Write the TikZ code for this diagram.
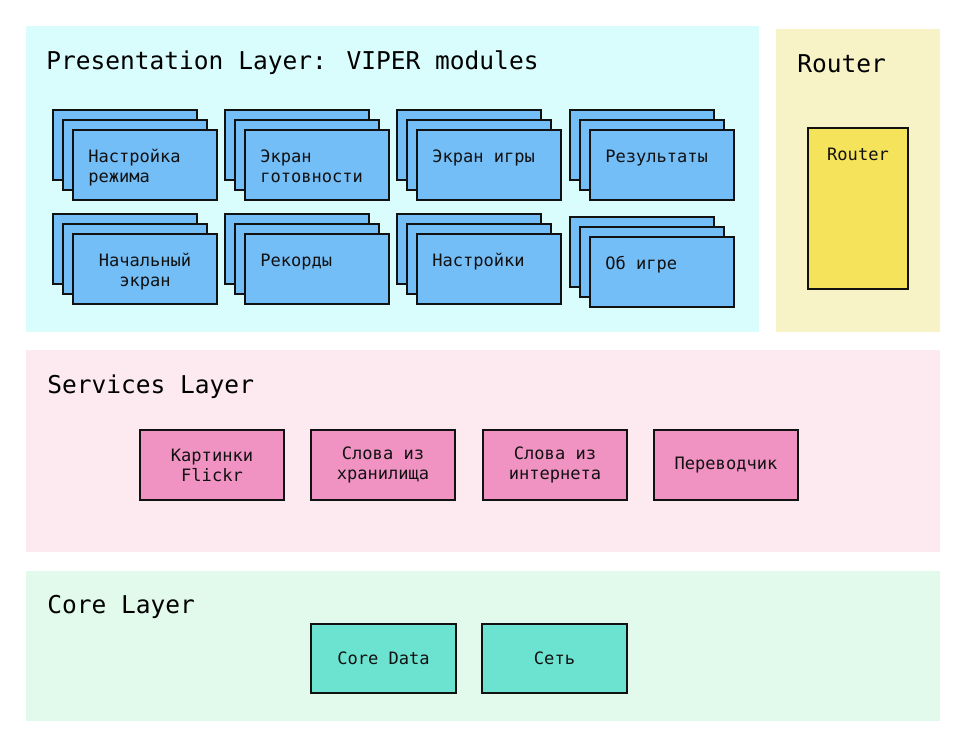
\documentclass[tikz,border=0pt]{standalone}
\usepackage{fontspec}
\setmainfont{DejaVu Sans Mono}
\definecolor{presbg}{HTML}{D9FDFD}
\definecolor{routbg}{HTML}{F8F3C7}
\definecolor{servbg}{HTML}{FCEAF0}
\definecolor{corebg}{HTML}{E2FAEB}
\definecolor{modfill}{HTML}{74BEF8}
\definecolor{routfill}{HTML}{F5E35B}
\definecolor{servfill}{HTML}{F093C3}
\definecolor{corefill}{HTML}{6CE3D0}
\definecolor{edgecol}{HTML}{111111}
\newcommand\rbox[6]{% name, style, x1, y1, x2, y2
  \pgfmathsetmacro\bw{(#5-#3)*0.75}\pgfmathsetmacro\bh{(#6-#4)*0.75}%
  \node[#2, minimum width=\bw pt, minimum height=\bh pt] (#1) at ({(#3+#5)/2},{(#4+#6)/2}) {};}
\newcommand\modstack[5]{% name, x, y, align, text
  \pgfmathsetmacro\xa{#2+10}\pgfmathsetmacro\ya{#3+10}%
  \pgfmathsetmacro\xb{#2+20}\pgfmathsetmacro\yb{#3+20}%
  \rbox{#1-back}{modbox}{#2}{#3}{#2+144}{#3+70}
  \rbox{#1-mid}{modbox}{\xa}{\ya}{\xa+144}{\ya+70}
  \rbox{#1}{modbox}{\xb}{\yb}{\xb+144}{\yb+70}
  \ifx l#4
    \node[modtext, anchor=north west, align=left] (#1-label) at ([xshift=15*0.75pt, yshift=-18*0.75pt]#1.north west) {\strut #5};
  \else
    \node[modtext, anchor=north, align=center] (#1-label) at ([yshift=-18*0.75pt]#1.north) {\strut #5};
  \fi}
\tikzset{
  panel/.style={draw=none, inner sep=0pt, outer sep=0pt},
  solidbox/.style={draw=edgecol, line width=1.5pt, inner sep=0pt, outer sep=0pt},
  modbox/.style={solidbox, fill=modfill},
  modtext/.style={inner sep=0pt, font=\fontsize{12.8}{15}\selectfont, text=edgecol},
  boxtext/.style={font=\fontsize{12.8}{15}\selectfont, text=edgecol, align=center},
  title/.style={inner sep=0pt, anchor=base west, font=\fontsize{18.4}{22}\selectfont, text=black},
}
\begin{document}
\begin{tikzpicture}[x=0.75pt, y=-0.75pt]
\useasboundingbox (0,0) rectangle (966,751);
\fill[white] (0,0) rectangle (966,751);
% panels
\rbox{pres}{panel, fill=presbg}{26}{26}{759}{332}
\rbox{rout}{panel, fill=routbg}{776}{29}{940}{332}
\rbox{serv}{panel, fill=servbg}{26}{350}{940}{552}
\rbox{core}{panel, fill=corebg}{26}{571}{940}{721}
% titles
\node[title] (pres-title) at (46,69) {Presentation Layer: VIPER modules};
\node[title] (rout-title) at (797,72) {Router};
\node[title] (serv-title) at (47,393) {Services Layer};
\node[title] (core-title) at (47,613) {Core Layer};
% modules
\modstack{m1}{53}{110}{l}{Настройка\\режима}
\modstack{m2}{225}{110}{l}{Экран\\готовности}
\modstack{m3}{397}{110}{l}{Экран игры}
\modstack{m4}{570}{110}{l}{Результаты}
\modstack{m5}{53}{214}{c}{Начальный\\экран}
\modstack{m6}{225}{214}{l}{Рекорды}
\modstack{m7}{397}{214}{l}{Настройки}
\modstack{m8}{570}{217}{l}{Об игре}
% router
\rbox{router}{solidbox, fill=routfill}{808}{128}{908}{289}
\node[modtext, anchor=north] (router-label) at ([yshift=-18*0.75pt]router.north) {\strut Router};
% services
\rbox{s1}{solidbox, fill=servfill}{140}{430}{284}{500}
\rbox{s2}{solidbox, fill=servfill}{311}{430}{455}{500}
\rbox{s3}{solidbox, fill=servfill}{483}{430}{627}{500}
\rbox{s4}{solidbox, fill=servfill}{654}{430}{798}{500}
\node[boxtext] (s1-label) at (s1) {Картинки\\Flickr};
\node[boxtext] (s2-label) at (s2) {Слова из\\хранилища};
\node[boxtext] (s3-label) at (s3) {Слова из\\интернета};
\node[boxtext] (s4-label) at (s4) {Переводчик};
% core
\rbox{c1}{solidbox, fill=corefill}{311}{624}{456}{693}
\rbox{c2}{solidbox, fill=corefill}{482}{624}{627}{693}
\node[boxtext] (c1-label) at (c1) {Core Data};
\node[boxtext] (c2-label) at (c2) {Сеть};
\end{tikzpicture}
\end{document}
